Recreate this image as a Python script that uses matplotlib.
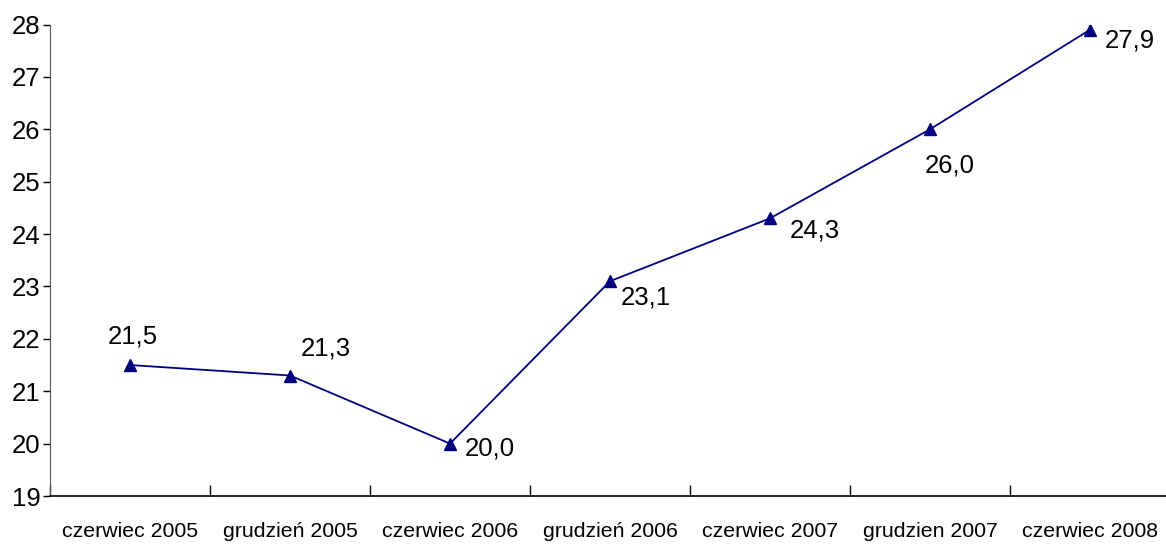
import matplotlib
matplotlib.use("Agg")
import matplotlib.pyplot as plt

periods = ["czerwiec 2005", "grudzień 2005", "czerwiec 2006", "grudzień 2006",
           "czerwiec 2007", "grudzien 2007", "czerwiec 2008"]
values = [21.5, 21.3, 20.0, 23.1, 24.3, 26.0, 27.9]

# label placement per point: pixel offset to the text baseline, alignment
label_offsets = [(3, 22, "center"), (36, 20.5, "center"), (15, -11.5, "left"),
                 (11, -23.5, "left"), (20, -19, "left"), (20, -43, "center"),
                 (15, -18, "left")]

plt.rcParams["font.family"] = ["Liberation Sans", "DejaVu Sans"]

fig = plt.figure(figsize=(11.66, 5.44), dpi=100)
ax = fig.add_axes([50 / 1166, 48 / 544, 1120 / 1166, 471.5 / 544])

x = list(range(len(values)))
ax.plot(x, values, color="#000080", linewidth=1.3, marker="^",
        markersize=9, markerfacecolor="#000080", markeredgecolor="#000080")

for xi, v, (dx, dy, ha) in zip(x, values, label_offsets):
    ax.annotate(f"{v:.1f}".replace(".", ","), (xi, v), xytext=(dx, dy),
                textcoords="offset pixels", ha=ha, va="baseline",
                fontsize=18.5)

ax.set_xlim(-0.5, len(values) - 0.5)
ax.set_ylim(19, 28)
ax.set_yticks(range(19, 29))
ax.tick_params(axis="y", labelsize=18.5, length=5, width=1, pad=2)

# category labels sit between the boundary ticks
ax.set_xticks([i - 0.5 for i in range(len(values) + 1)])
ax.set_xticklabels([])
ax.set_xticks(x, minor=True)
ax.set_xticklabels(periods, minor=True, fontsize=15.3)
ax.tick_params(axis="x", which="major", direction="in", length=8, width=1)
ax.tick_params(axis="x", which="minor", length=0, pad=19)

for side in ("top", "right"):
    ax.spines[side].set_visible(False)
ax.spines["left"].set_color("#555555")
ax.spines["bottom"].set_linewidth(1.2)

fig.savefig("out.png", dpi=100)
